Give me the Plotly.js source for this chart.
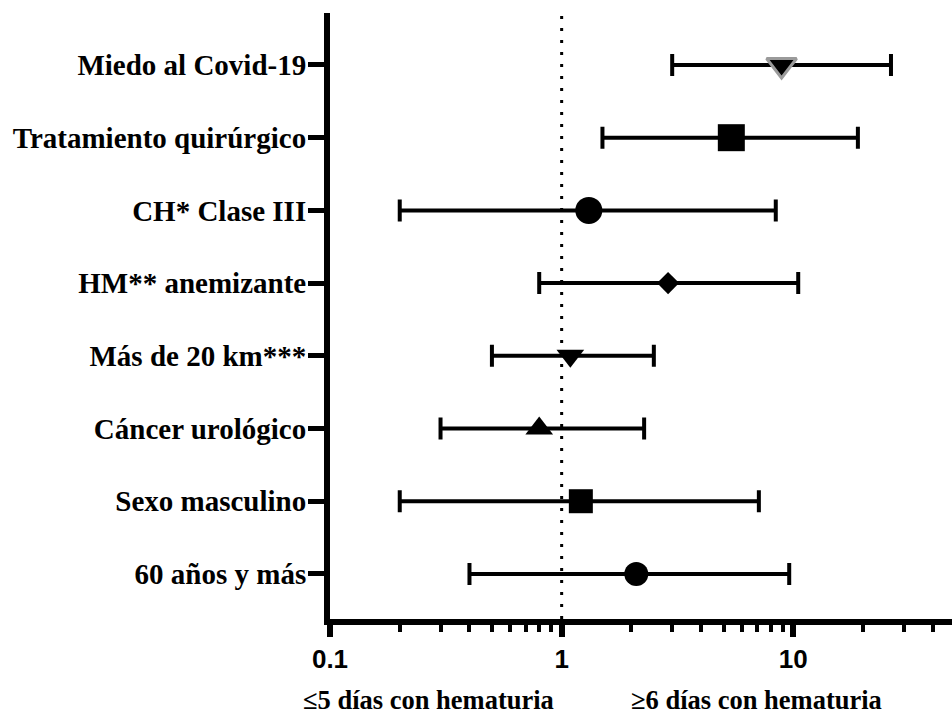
<!DOCTYPE html>
<html>
<head>
<meta charset="utf-8">
<script src="https://cdn.plot.ly/plotly-3.0.1.min.js"></script>
<style>html,body{margin:0;padding:0;background:#fff;}#chart{width:952px;height:715px;}</style>
</head>
<body>
<div id="chart"></div>
<script>
// Factors, top to bottom
const factors = [
  'Miedo al Covid-19',
  'Tratamiento quirúrgico',
  'CH* Clase III',
  'HM** anemizante',
  'Más de 20 km***',
  'Cáncer urológico',
  'Sexo masculino',
  '60 años y más'
];
const oddsRatio = [8.9, 5.4, 1.31, 2.88, 1.09, 0.80, 1.21, 2.10];
const ciLower   = [3.0, 1.5, 0.20, 0.80, 0.50, 0.30, 0.20, 0.40];
const ciUpper   = [26.4, 19.0, 8.4, 10.5, 2.5, 2.27, 7.1, 9.6];

const xTickVals = [0.1, 1, 10];
const xTickText = ['0.1', '1', '10'];
const nullValue = 1;
const leftLabel = '≤5 días con hematuria';
const rightLabel = '≥6 días con hematuria';

// Styles (kept separate from data)
const markerSymbols = ['triangle-down','square','circle','diamond','triangle-down','triangle-up','square','circle'];
const markerSizes   = [26, 27, 27, 17, 24, 24, 24, 24];
const markerLineColors = ['#9a9a9a','black','black','black','black','black','black','black'];
const markerLineWidths = [3, 0, 0, 0, 0, 0, 0, 0];

// minor tick positions for a log axis: digits 2..9 of each decade
const minorVals = [];
xTickVals.forEach(d => { for (let k = 2; k <= 9; k++) minorVals.push(+(d * k).toPrecision(3)); });

const serif = 'Liberation Serif, Times New Roman, serif';
const sans = 'Liberation Sans, Arial, sans-serif';

// dotted reference line at OR = 1 (drawn on a hidden overlay axis spanning the plot height)
const refLine = {
  type: 'scatter',
  mode: 'lines',
  x: [nullValue, nullValue],
  y: [0, 1],
  yaxis: 'y2',
  line: { color: 'black', width: 3, dash: '3px,9px' },
  hoverinfo: 'skip'
};

const trace = {
  type: 'scatter',
  mode: 'markers',
  x: oddsRatio,
  y: factors,
  error_x: {
    type: 'data',
    symmetric: false,
    array: oddsRatio.map((v, i) => ciUpper[i] - v),
    arrayminus: oddsRatio.map((v, i) => v - ciLower[i]),
    color: 'black',
    thickness: 4,
    width: 11
  },
  marker: {
    symbol: markerSymbols,
    size: markerSizes,
    color: 'black',
    opacity: 1,
    line: { color: markerLineColors, width: markerLineWidths }
  },
  hoverinfo: 'x+y'
};

const layout = {
  width: 952,
  height: 715,
  margin: { l: 330, r: 0, t: 13, b: 96, pad: 0 },
  paper_bgcolor: 'white',
  plot_bgcolor: 'white',
  showlegend: false,
  xaxis: {
    type: 'log',
    range: [-1, 1.685],
    tickmode: 'array',
    tickvals: xTickVals,
    ticktext: xTickText,
    ticks: 'outside',
    ticklen: 12,
    tickwidth: 6,
    tickcolor: 'black',
    minor: {
      tickmode: 'array',
      tickvals: minorVals,
      ticks: 'outside',
      ticklen: 7,
      tickwidth: 4,
      tickcolor: 'black',
      showgrid: false
    },
    showline: true,
    linewidth: 6,
    linecolor: 'black',
    showgrid: false,
    zeroline: false,
    tickfont: { family: sans, size: 26, color: 'black', weight: 'bold' }
  },
  yaxis: {
    type: 'category',
    categoryorder: 'array',
    categoryarray: factors,
    range: [7.62, -0.715],
    ticks: 'outside',
    ticklen: 16,
    tickwidth: 5,
    tickcolor: 'black',
    ticklabelstandoff: -4,
    showline: true,
    linewidth: 6,
    linecolor: 'black',
    showgrid: false,
    zeroline: false,
    tickfont: { family: serif, size: 29, color: 'black', weight: 'bold' }
  },
  yaxis2: {
    overlaying: 'y',
    range: [0, 1.005],
    visible: false,
    showgrid: false,
    zeroline: false,
    fixedrange: true
  },
  annotations: [
    { text: leftLabel, xref: 'paper', yref: 'paper', x: 0.158, y: -0.133, xanchor: 'center', yanchor: 'middle', showarrow: false,
      font: { family: serif, size: 26.5, color: 'black', weight: 'bold' } },
    { text: rightLabel, xref: 'paper', yref: 'paper', x: 0.685, y: -0.133, xanchor: 'center', yanchor: 'middle', showarrow: false,
      font: { family: serif, size: 26.5, color: 'black', weight: 'bold' } }
  ]
};

Plotly.newPlot('chart', [refLine, trace], layout, { displayModeBar: false, staticPlot: true });
</script>
</body>
</html>
